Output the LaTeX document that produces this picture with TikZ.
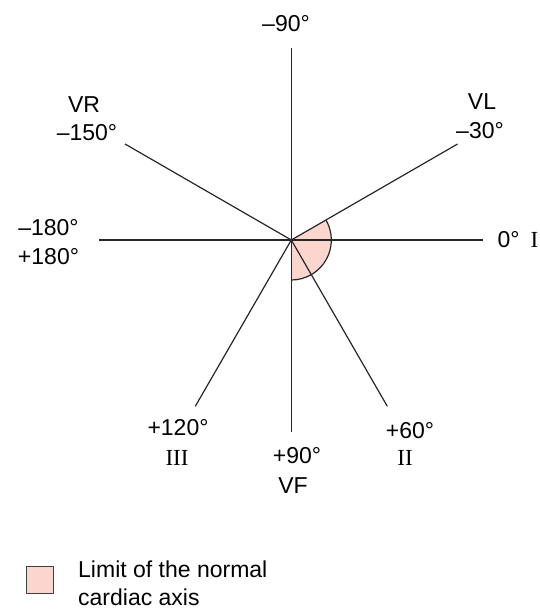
\documentclass[tikz,border=0pt]{standalone}
\usepackage{fontspec}
\setmainfont{Liberation Sans}
\newfontfamily\romfont{Liberation Serif}
\begin{document}
\begin{tikzpicture}
% Hexaxial reference system with the normal axis sector
\def\unitsz{1pt}
\providecommand{\axisLineColor}{black!85}
\providecommand{\axisLineWidth}{1.2pt}
\providecommand{\axisLength}{192}
\providecommand{\sectorRadius}{40}
\definecolor{sectorFill}{RGB}{252,214,206}
\begin{scope}[x=\unitsz, y=-\unitsz, line cap=butt, line join=round,
  font=\fontsize{23}{28}\selectfont,
  lbl/.style={anchor=base, inner sep=0pt},
  rom/.style={lbl, font=\romfont\fontsize{23}{28}\selectfont}]
  % Page frame
  \path[use as bounding box] (0,0) rectangle (539,610);
  % Centre and axis ends
  \coordinate (O) at (291.3,240);
  \path (O) ++(-90:\axisLength) coordinate (aM90);
  \path (O) ++(-30:\axisLength) coordinate (aM30);
  \path (O) ++(0:\axisLength) coordinate (aZero);
  \path (O) ++(60:\axisLength) coordinate (aP60);
  \path (O) ++(90:\axisLength) coordinate (aP90);
  \path (O) ++(120:\axisLength) coordinate (aP120);
  \path (O) ++(180:\axisLength) coordinate (aP180);
  \path (O) ++(-150:\axisLength) coordinate (aM150);
  % Normal sector (fill)
  \fill[sectorFill] (O) -- ++(-30:\sectorRadius) arc[start angle=-30, end angle=90, radius=\sectorRadius] -- cycle;
  % Axes
  \begin{scope}[draw=\axisLineColor, line width=\axisLineWidth]
    \draw (O) -- (aM90);
    \draw (O) -- (aM30);
    \draw (O) -- (aZero);
    \draw (O) -- (aP60);
    \draw (O) -- (aP90);
    \draw (O) -- (aP120);
    \draw (O) -- (aP180);
    \draw (O) -- (aM150);
    % Sector outline
    \draw (O) ++(-30:\sectorRadius) arc[start angle=-30, end angle=90, radius=\sectorRadius];
  \end{scope}
  % Labels
  \node[lbl] (lM90) at (286,32) {–90°};
  \node[lbl] (lVL) at (482,109) {VL};
  \node[lbl] (lM30) at (480,138) {–30°};
  \node[lbl] (lVR) at (84,112) {VR};
  \node[lbl] (lM150) at (87,140) {–150°};
  \node[lbl] (lM180) at (48.5,235) {–180°};
  \node[lbl] (lP180) at (48.5,264) {+180°};
  \node[lbl] (lZero) at (508.5,247) {0°};
  \node[rom] (lI) at (534.5,247) {I};
  \node[lbl] (lP120) at (178,435) {+120°};
  \node[rom] (lIII) at (177,465) {III};
  \node[lbl] (lP90) at (297,463) {+90°};
  \node[lbl] (lVF) at (293,493) {VF};
  \node[lbl] (lP60) at (410,438) {+60°};
  \node[rom] (lII) at (405,465) {II};
  % Legend
  \node[draw=black!75, line width=0.9pt, fill=sectorFill, minimum size=27pt, inner sep=0pt] (key) at (39.5,579.5) {};
  \node[anchor=base west, inner sep=0pt] (keyA) at (78,577) {Limit of the normal};
  \node[anchor=base west, inner sep=0pt] (keyB) at (78,605) {cardiac axis};
\end{scope}
\end{tikzpicture}
\end{document}
